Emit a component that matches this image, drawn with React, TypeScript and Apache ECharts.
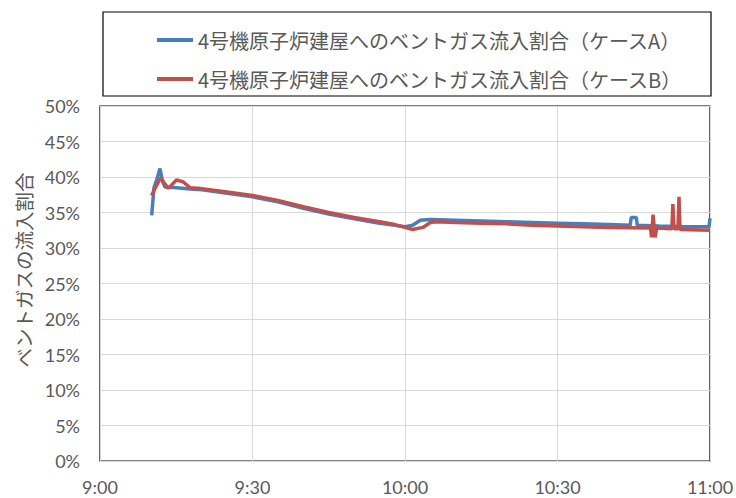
import React, { useEffect, useRef } from "react";
import * as echarts from "echarts";

// time in minutes after 9:00, values in %
const timeLabels = ["9:00", "9:30", "10:00", "10:30", "11:00"];
const yAxisName = "ベントガスの流入割合";
const seriesAName = "4号機原子炉建屋へのベントガス流入割合（ケースA）";
const seriesBName = "4号機原子炉建屋へのベントガス流入割合（ケースB）";

const timeA = [10.17, 10.62, 11.15, 11.8, 12.33, 12.79, 15.1, 17.7, 20.1, 25, 30, 35, 40, 45, 50, 55, 58, 60, 61.5, 63, 65, 70, 75, 80, 85, 90, 95, 100, 104.3, 104.5, 105.5, 105.7, 110, 115, 119.8, 120];
const valA = [34.6, 38.5, 39.6, 41.2, 39.3, 38.6, 38.5, 38.3, 38.2, 37.7, 37.2, 36.5, 35.6, 34.8, 34.1, 33.5, 33.2, 33.0, 33.2, 33.9, 34.0, 33.9, 33.8, 33.7, 33.6, 33.5, 33.4, 33.3, 33.2, 34.3, 34.3, 33.2, 33.1, 33.0, 33.0, 34.2];

const timeB = [10.17, 10.82, 11.94, 12.6, 13.44, 15.09, 16.39, 17.7, 19.3, 25, 30, 35, 40, 45, 50, 55, 58, 60, 61.5, 63.5, 65, 66, 70, 75, 80, 85, 90, 95, 100, 108.3, 108.5, 108.8, 109.2, 109.5, 112.5, 112.7, 112.9, 113.7, 113.9, 114.1, 120];
const valB = [37.4, 38.4, 39.9, 39.2, 38.4, 39.6, 39.3, 38.5, 38.4, 37.9, 37.4, 36.7, 35.8, 35.0, 34.3, 33.7, 33.3, 32.9, 32.6, 32.9, 33.6, 33.7, 33.6, 33.5, 33.4, 33.2, 33.1, 33.0, 32.9, 32.8, 31.5, 34.7, 31.5, 32.8, 32.7, 36.2, 32.7, 32.7, 37.2, 32.6, 32.5];

const colorA = "#4A7EBB";
const colorB = "#C0504D";

export default function App() {
  const ref = useRef<HTMLDivElement>(null);
  useEffect(() => {
    if (!ref.current) return;
    const chart = echarts.init(ref.current, undefined, { renderer: "svg" });
    const font = "Lato, 'Noto Sans', sans-serif";
    const cjkFont = "'Noto Sans CJK JP', sans-serif";
    chart.setOption({
      animation: false,
      backgroundColor: "#fff",
      graphic: [
        {
          type: "rect",
          shape: { x: 103, y: 12, width: 608, height: 84 },
          style: { fill: "none", stroke: "#000", lineWidth: 1.2 },
          silent: true,
        },
        {
          type: "text",
          x: 23,
          y: 270,
          rotation: Math.PI / 2,
          silent: true,
          style: {
            text: yAxisName,
            fill: "#595959",
            fontSize: 19.5,
            fontFamily: cjkFont,
            align: "center",
            verticalAlign: "middle",
          },
        },
      ],
      legend: {
        orient: "vertical",
        left: 152,
        top: 25,
        itemGap: 19,
        icon: "rect",
        itemWidth: 36,
        itemHeight: 4,
        textStyle: { fontSize: 20, color: "#595959", fontFamily: cjkFont },
        data: [seriesAName, seriesBName],
      },
      grid: {
        left: 100,
        right: 26,
        top: 106,
        bottom: 37,
        show: true,
        borderColor: "#000",
        borderWidth: 1.2,
        containLabel: false,
        outerBoundsMode: "none",
      },
      xAxis: {
        type: "value",
        min: 0,
        max: 120,
        interval: 30,
        axisLine: { show: false },
        axisTick: { show: false },
        splitLine: { show: true, lineStyle: { color: "#D9D9D9", width: 1 } },
        axisLabel: {
          fontSize: 18,
          color: "#595959",
          fontFamily: font,
          margin: 17,
          formatter: (v: number) => timeLabels[Math.round(v / 30)] ?? "",
        },
      },
      yAxis: {
        type: "value",
        min: 0,
        max: 50,
        interval: 5,
        axisLine: { show: false },
        axisTick: { show: false },
        splitLine: { show: true, lineStyle: { color: "#D9D9D9", width: 1 } },
        axisLabel: {
          fontSize: 18,
          color: "#595959",
          fontFamily: font,
          margin: 20,
          formatter: (v: number) => `${v}%`,
        },
      },
      series: [
        {
          name: seriesAName,
          type: "line",
          showSymbol: false,
          color: colorA,
          lineStyle: { width: 3.5, color: colorA },
          data: timeA.map((t, i) => [t, valA[i]]),
        },
        {
          name: seriesBName,
          type: "line",
          showSymbol: false,
          color: colorB,
          lineStyle: { width: 3.5, color: colorB },
          data: timeB.map((t, i) => [t, valB[i]]),
        },
      ],
    });
    return () => chart.dispose();
  }, []);
  return <div ref={ref} style={{ width: 736, height: 498, position: "absolute", left: 0, top: 0 }} />;
}
